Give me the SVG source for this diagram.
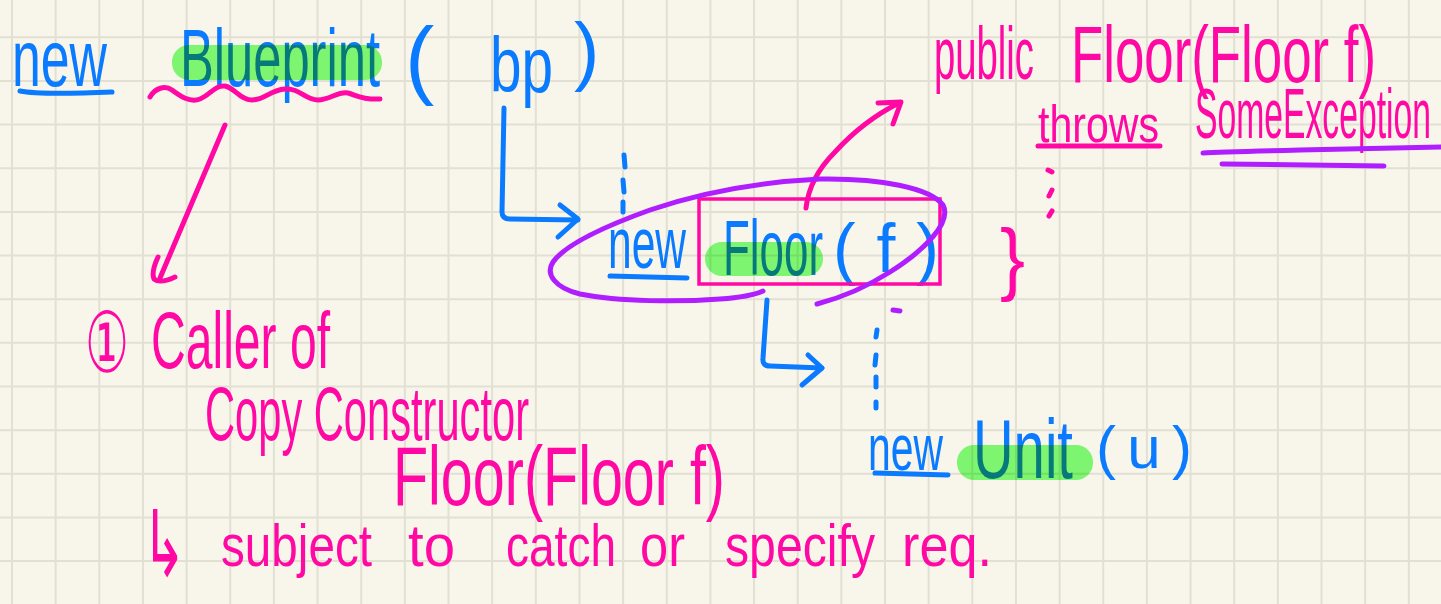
<svg xmlns="http://www.w3.org/2000/svg" width="1441" height="604" viewBox="0 0 1441 604">
<style>
.bg{fill:#f8f6ea}
.grid{stroke:#e1e0d3;stroke-width:2;fill:none}
text{font-family:"Liberation Sans","DejaVu Sans",sans-serif}
.tb{fill:#0a7aff}
.tp{fill:#ff08a4}
.sb{stroke:#0a7aff;stroke-width:5;fill:none;stroke-linecap:round;stroke-linejoin:round}
.sp{stroke:#ff08a4;stroke-width:5;fill:none;stroke-linecap:round;stroke-linejoin:round}
.sv{stroke:#b01eff;stroke-width:5;fill:none;stroke-linecap:round;stroke-linejoin:round}
.hl{fill:#82fe7a;mix-blend-mode:multiply}
</style>
<rect class="bg" x="0" y="0" width="1441" height="604"/>
<path class="grid" d="M12,0V604M55.65,0V604M99.3,0V604M142.95,0V604M186.6,0V604M230.25,0V604M273.9,0V604M317.55,0V604M361.2,0V604M404.85,0V604M448.5,0V604M492.15,0V604M535.8,0V604M579.45,0V604M623.1,0V604M666.75,0V604M710.4,0V604M754.05,0V604M797.7,0V604M841.35,0V604M885,0V604M928.65,0V604M972.3,0V604M1015.95,0V604M1059.6,0V604M1103.25,0V604M1146.9,0V604M1190.55,0V604M1234.2,0V604M1277.85,0V604M1321.5,0V604M1365.15,0V604M1408.8,0V604M0,37.3H1441M0,80.95H1441M0,124.6H1441M0,168.25H1441M0,211.9H1441M0,255.55H1441M0,299.2H1441M0,342.85H1441M0,386.5H1441M0,430.15H1441M0,473.8H1441M0,517.45H1441M0,561.1H1441"/>

<g id="connectors">
  <path class="sp" d="M225,125 L160,278"/>
  <path class="sp" d="M158,257 Q151,272 154,279 Q160,284 175,277"/>
  <path class="sb" d="M504,108 L502,212 Q502,219 510,219 L578,220"/>
  <path class="sb" d="M560,205 L578,219 L558,237"/>
  <path class="sb" d="M624,155 L625,167 M623,180 L624,192 M623,202 L623,212"/>
  <path class="sp" d="M806,208 C808,190 815,172 835,152 C855,130 875,115 899,103"/>
  <path class="sp" d="M878,103 L901,102 L893,124"/>
  <path class="sb" d="M767,300 L763,358 Q762,366 770,366 L822,368"/>
  <path class="sb" d="M808,355 L822,368 L802,385"/>
  <path class="sb" d="M877,330 L876,337 M876,355 L875,365 M876,377 L876,387 M876,402 L876,408"/>
  <path class="sp" d="M1048,170 L1052,172 M1049,196 L1052,190 M1049,216 L1052,211"/>
  <path class="sv" d="M893,310 L900,311"/>
</g>

<g id="node-blueprint">
  <text class="tb" x="12" y="86" font-size="80" textLength="95" lengthAdjust="spacingAndGlyphs">new</text>
  <path class="sb" d="M20,91 Q40,95 112,92"/>
  <text class="tb" x="180" y="86" font-size="82" textLength="200" lengthAdjust="spacingAndGlyphs">Blueprint</text>
  <rect class="hl" x="172" y="45" width="210" height="35" rx="17"/>
  <path class="sp" d="M150,97 C155,88 165,85 172,90 C180,96 190,103 200,99 C210,95 215,85 225,86 C235,88 240,100 252,100 C265,100 270,90 285,89 C300,88 305,100 318,100 C330,100 338,91 348,93 C356,95 362,100 380,99"/>
  <text class="tb" x="405" y="88" font-size="88">(</text>
  <text class="tb" x="490" y="92" font-size="78" textLength="63" lengthAdjust="spacingAndGlyphs">bp</text>
  <text class="tb" x="574" y="76" font-size="76">)</text>
</g>

<g id="node-floor">
  <text class="tb" x="608" y="268" font-size="72" textLength="78" lengthAdjust="spacingAndGlyphs">new</text>
  <path class="sb" d="M610,276 L687,278"/>
  <text class="tb" x="723" y="275" font-size="78" textLength="100" lengthAdjust="spacingAndGlyphs">Floor</text>
  <rect class="hl" x="705" y="242" width="118" height="34" rx="17"/>
  <text class="tb" x="833" y="272" font-size="68" textLength="106" lengthAdjust="spacing">( f )</text>
  <rect x="699" y="199" width="241" height="85" fill="none" stroke="#ff08a4" stroke-width="3.5"/>
  <path class="sv" d="M763,291 Q750,297 720,299 C680,302 620,302 580,294 C555,288 545,274 553,262 C565,245 600,228 650,210 C700,193 760,182 820,179 C880,178 930,188 943,205 C952,222 925,250 890,272 C865,288 840,298 817,304"/>
</g>

<g id="node-unit">
  <text class="tb" x="868" y="470" font-size="64" textLength="75" lengthAdjust="spacingAndGlyphs">new</text>
  <path class="sb" d="M875,473 L948,475"/>
  <text class="tb" x="973" y="478" font-size="84" textLength="100" lengthAdjust="spacingAndGlyphs">Unit</text>
  <rect class="hl" x="957" y="445" width="136" height="35" rx="17"/>
  <text class="tb" x="1096" y="468" font-size="60" textLength="96" lengthAdjust="spacing">(u)</text>
</g>

<g id="node-copy-constructor">
  <text class="tp" x="934" y="79" font-size="74" textLength="100" lengthAdjust="spacingAndGlyphs">public</text>
  <text class="tp" x="1071" y="82" font-size="80" textLength="305" lengthAdjust="spacingAndGlyphs">Floor(Floor f)</text>
  <text class="tp" x="1038" y="142" font-size="52" textLength="121" lengthAdjust="spacingAndGlyphs">throws</text>
  <path class="sp" d="M1038,146 L1160,146"/>
  <text class="tp" x="1195" y="138" font-size="70" textLength="236" lengthAdjust="spacingAndGlyphs">SomeException</text>
  <path class="sv" d="M1203,153 Q1220,152 1300,150 L1441,147 M1222,164 L1384,166"/>
  <text class="tp" x="1000" y="285" font-size="80" textLength="25" lengthAdjust="spacingAndGlyphs">}</text>
</g>

<g id="node-note">
  <text class="tp" x="85" y="372" font-size="84" textLength="44" lengthAdjust="spacingAndGlyphs" style="font-family:'DejaVu Sans','Noto Sans CJK SC',sans-serif">①</text>
  <text class="tp" x="151" y="368" font-size="80" textLength="179" lengthAdjust="spacingAndGlyphs">Caller of</text>
  <text class="tp" x="205" y="440" font-size="76" textLength="324" lengthAdjust="spacingAndGlyphs">Copy Constructor</text>
  <text class="tp" x="393" y="505" font-size="84" textLength="332" lengthAdjust="spacingAndGlyphs">Floor(Floor f)</text>
  <text class="tp" x="142" y="576" font-size="92" textLength="44" lengthAdjust="spacingAndGlyphs" style="font-family:'DejaVu Sans',sans-serif">↳</text>
  <text class="tp" x="221" y="566" font-size="60" textLength="151" lengthAdjust="spacingAndGlyphs">subject</text>
  <text class="tp" x="408" y="566" font-size="60" textLength="47" lengthAdjust="spacingAndGlyphs">to</text>
  <text class="tp" x="506" y="566" font-size="60" textLength="110" lengthAdjust="spacingAndGlyphs">catch</text>
  <text class="tp" x="640" y="566" font-size="60" textLength="45" lengthAdjust="spacingAndGlyphs">or</text>
  <text class="tp" x="725" y="566" font-size="60" textLength="150" lengthAdjust="spacingAndGlyphs">specify</text>
  <text class="tp" x="902" y="566" font-size="60" textLength="90" lengthAdjust="spacingAndGlyphs">req.</text>
</g>
</svg>
